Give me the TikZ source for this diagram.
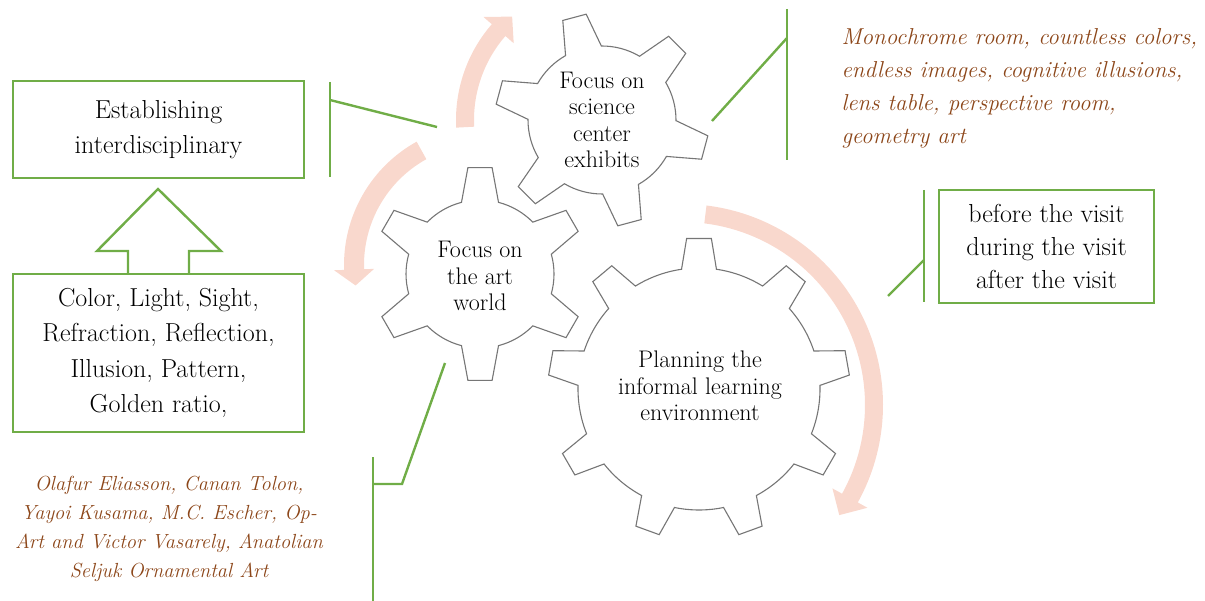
\documentclass[tikz,border=0pt]{standalone}
\usepackage{tikz}
\usetikzlibrary{positioning}

\definecolor{boxgreen}{RGB}{112,173,71}
\definecolor{notebrown}{RGB}{140,70,25}
\definecolor{arrowpink}{RGB}{249,216,205}
\definecolor{gearline}{RGB}{118,118,118}

% gear outline: centre, teeth, tip radius, root radius, tip half angle, base half angle, phase
\newcommand{\drawgear}[7]{%
  \pgfmathsetmacro{\gstep}{360/#2}
  \draw[gear, shift={(#1)}] ({#7-#6}:#4)
    \foreach \k in {1,...,#2} {
      -- ({#7+(\k-1)*\gstep-#5}:#3) -- ({#7+(\k-1)*\gstep+#5}:#3)
      -- ({#7+(\k-1)*\gstep+#6}:#4)
      arc[start angle={#7+(\k-1)*\gstep+#6}, end angle={#7+\k*\gstep-#6}, radius=#4]
    } -- cycle;
}
% curved block arrow: centre, radius, start, head base, tip, half width, head half width
\newcommand{\arcarrow}[7]{%
  \fill[arrowpink, shift={(#1)}] ({#3}:{#2+#6})
    arc[start angle={#3}, end angle={#4}, radius={#2+#6}]
    -- ({#4}:{#2+#7}) -- ({#5}:{#2}) -- ({#4}:{#2-#7}) -- ({#4}:{#2-#6})
    arc[start angle={#4}, end angle={#3}, radius={#2-#6}] -- cycle;
}

\begin{document}
\begin{tikzpicture}[x=1pt,y=1pt,
    gear/.style={draw=gearline, fill=white, line width=1.1pt},
    greenline/.style={draw=boxgreen, line width=2.4pt},
    greenbox/.style={draw=boxgreen, line width=2.4pt, align=center,
      font=\fontsize{26}{35.5}\selectfont},
    geartext/.style={align=center, font=\fontsize{24}{26.5}\selectfont},
    notetext/.style={text=notebrown, font=\fontsize{23}{33}\selectfont\itshape}]
  \useasboundingbox (0,0) rectangle (1205,-601);

  \coordinate (g1) at (602,-120);
  \coordinate (g2) at (480,-274);
  \coordinate (g3) at (699,-389);
  \coordinate (ac2) at (485,-265);
  \coordinate (ac3) at (682,-405);

  % arrows round the gears
  \arcarrow{g1}{137}{183}{139}{131}{9}{20}
  \arcarrow{ac2}{131}{119}{182}{189}{10}{20}
  \arcarrow{ac3}{192}{83}{-29}{-35}{9}{20}

  % gears
  \drawgear{g1}{6}{107}{74}{6.5}{14.5}{45}
  \drawgear{g2}{6}{107}{74}{6.5}{14.5}{90}
  \drawgear{g3}{9}{151}{121}{4.7}{8.3}{90}

  \node[geartext] (science) at (602,-120) {Focus on\\science\\center\\exhibits};
  \node[geartext] (art)     at (480,-276) {Focus on\\the art\\world};
  \node[geartext] (plan)    at (700,-386) {Planning the\\informal learning\\environment};

  % boxes on the left
  \node[greenbox, minimum width=291pt, minimum height=97pt] (goal) at (158.5,-129.5)
    {Establishing\\interdisciplinary};
  \node[greenbox, minimum width=291pt, minimum height=158pt] (topics) at (158.5,-353)
    {Color, Light, Sight,\\Refraction, Reflection,\\Illusion, Pattern,\\Golden ratio,};
  \draw[greenline] (128,-274) -- (128,-251) -- (97,-251) -- (158,-189)
    -- (221,-251) -- (189,-251) -- (189,-274);

  % box on the right
  \node[greenbox, minimum width=215pt, minimum height=113pt,
    font=\fontsize{26}{33}\selectfont] (visit) at (1046.5,-246.5)
    {before the visit\\during the visit\\after the visit};

  % notes
  \node[notetext, align=left, anchor=west] (exhibits) at (838,-88)
    {Monochrome room, countless colors,\\endless images, cognitive illusions,\\lens table, perspective room,\\geometry art};
  \node[notetext, align=center, font=\fontsize{20.4}{29}\selectfont\itshape] (artists) at (169,-529)
    {Olafur Eliasson, Canan Tolon,\\Yayoi Kusama, M.C. Escher, Op-\\Art and Victor Vasarely, Anatolian\\Seljuk Ornamental Art};

  % callout lines
  \coordinate (c1) at (437,-127);  \coordinate (b1) at (330,-100);
  \coordinate (b1t) at (330,-82);  \coordinate (b1d) at (330,-177);
  \coordinate (c2) at (712,-121);  \coordinate (b2) at (787,-38);
  \coordinate (b2t) at (787,-9);   \coordinate (b2d) at (787,-160);
  \coordinate (c3) at (888,-296);  \coordinate (b3) at (924,-260);
  \coordinate (b3t) at (924,-190); \coordinate (b3d) at (924,-302);
  \coordinate (c4) at (445,-363);  \coordinate (k4) at (402,-484);
  \coordinate (b4) at (373,-484);
  \coordinate (b4t) at (373,-457); \coordinate (b4d) at (373,-601);
  \draw[greenline] (c1) -- (b1);  \draw[greenline] (b1t) -- (b1d);
  \draw[greenline] (c2) -- (b2);  \draw[greenline] (b2t) -- (b2d);
  \draw[greenline] (c3) -- (b3);  \draw[greenline] (b3t) -- (b3d);
  \draw[greenline] (c4) -- (k4) -- (b4);  \draw[greenline] (b4t) -- (b4d);
\end{tikzpicture}
\end{document}
